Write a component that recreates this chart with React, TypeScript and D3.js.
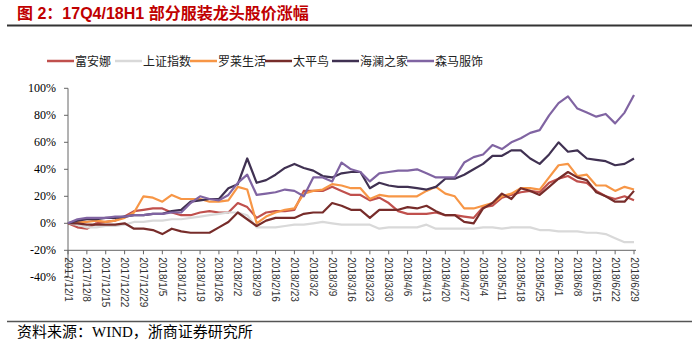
import { useRef, useEffect } from "react";
import * as d3 from "d3";

// weekly tick labels (every 5 trading days)
const weekLabels = [
  "2017/12/1", "2017/12/8", "2017/12/15", "2017/12/22", "2017/12/29",
  "2018/1/5", "2018/1/12", "2018/1/19", "2018/1/26", "2018/2/2",
  "2018/2/9", "2018/2/16", "2018/2/23", "2018/3/2", "2018/3/9",
  "2018/3/16", "2018/3/23", "2018/3/30", "2018/4/6", "2018/4/13",
  "2018/4/20", "2018/4/27", "2018/5/4", "2018/5/11", "2018/5/18",
  "2018/5/25", "2018/6/1", "2018/6/8", "2018/6/15", "2018/6/22",
  "2018/6/29",
];

const yTicks = [-40, -20, 0, 20, 40, 60, 80, 100];

// cumulative change in %, sampled twice a week
const fuanna = [
  0, -3, -4, 0, 1, 2, 5, 9, 10, 11, 11, 8, 6, 6, 8, 9, 8, 8, 15, 12,
  4, 8, 9, 9, 10, 24, 24, 24, 27, 24, 21, 21, 17, 19, 15, 9, 7, 7, 7, 8,
  6, 6, 5, 4, 12, 13, 19, 21, 23, 24, 23, 30, 33, 35, 31, 30, 24, 20, 18, 20,
  17,
];
const shIndex = [
  0, -1, -3, -3, -2, -2, -1, 1, 1, 2, 2, 3, 3, 4, 5, 6, 7, 8, 8, 6,
  -3, -3, -3, -2, -1, -1, 0, 1, 0, -1, -1, -1, -1, -4, -3, -3, -3, -3, -1, -4,
  -4, -4, -4, -4, -3, -3, -4, -3, -3, -3, -5, -5, -6, -6, -6, -7, -7, -8, -11, -14,
  -14,
];
const luolai = [
  0, 1, 1, 2, 1, 2, 4, 8, 20, 19, 16, 21, 18, 18, 18, 16, 16, 17, 27, 25,
  0, 5, 8, 10, 11, 22, 24, 25, 29, 28, 26, 26, 18, 21, 20, 20, 20, 20, 24, 27,
  22, 20, 11, 11, 13, 15, 20, 22, 26, 26, 25, 34, 43, 44, 35, 36, 28, 28, 24, 27,
  25,
];
const peacebird = [
  0, 0, -1, -1, -1, -1, 0, -4, -4, -5, -8, -4, -6, -7, -7, -7, -3, 1, 8, 3,
  -2, 2, 4, 4, 4, 7, 8, 8, 15, 13, 10, 10, 4, 10, 10, 10, 12, 11, 13, 9,
  6, 6, 1, 0, 11, 15, 22, 18, 26, 24, 21, 27, 33, 38, 34, 32, 23, 20, 16, 16,
  24,
];
const hla = [
  0, 2, 3, 3, 4, 4, 5, 6, 6, 7, 7, 9, 10, 16, 17, 18, 18, 26, 29, 48,
  30, 32, 36, 41, 44, 41, 39, 35, 34, 37, 38, 38, 26, 30, 28, 27, 27, 26, 25, 27,
  33, 33, 36, 40, 44, 50, 50, 54, 54, 48, 44, 51, 60, 53, 54, 48, 47, 46, 43, 44,
  48,
];
const semir = [
  0, 3, 4, 4, 4, 5, 5, 6, 6, 7, 7, 8, 8, 15, 20, 18, 17, 21, 30, 36,
  21, 22, 23, 25, 24, 20, 34, 34, 31, 45, 40, 38, 31, 37, 38, 39, 39, 40, 37, 34,
  34, 34, 45, 49, 51, 58, 55, 60, 63, 67, 69, 80, 89, 94, 85, 82, 79, 81, 74, 82,
  95,
];

const seriesNames = ["富安娜", "上证指数", "罗莱生活", "太平鸟", "海澜之家", "森马服饰"];
const seriesValues = [fuanna, shIndex, luolai, peacebird, hla, semir];
const seriesColors = ["#C0504D", "#D9D9D9", "#F79646", "#772C2A", "#403152", "#8064A2"];

function Chart() {
  const svgRef = useRef<SVGSVGElement>(null);

  useEffect(() => {
    if (!svgRef.current) return;
    const svg = d3.select(svgRef.current);
    svg.selectAll("*").remove();

    const width = 700;
    const height = 353;
    svg.attr("width", width).attr("height", height);

    const x = d3.scaleLinear().domain([0, 60]).range([68, 634]);
    const y = d3.scaleLinear().domain([-40, 100]).range([277.3, 88.3]);

    // title + rules
    svg
      .append("text")
      .attr("x", 17)
      .attr("y", 19)
      .style("font-family", "'Liberation Sans', 'Noto Sans CJK SC', sans-serif")
      .style("font-weight", "bold")
      .style("font-size", "16px")
      .style("fill", "#C00000")
      .text("图 2：17Q4/18H1 部分服装龙头股价涨幅");
    svg
      .append("line")
      .attr("x1", 7)
      .attr("x2", 692)
      .attr("y1", 25.5)
      .attr("y2", 25.5)
      .attr("stroke", "#333")
      .attr("stroke-width", 2);
    svg
      .append("line")
      .attr("x1", 7)
      .attr("x2", 692)
      .attr("y1", 321.5)
      .attr("y2", 321.5)
      .attr("stroke", "#555")
      .attr("stroke-width", 1.5);
    svg
      .append("text")
      .attr("x", 17)
      .attr("y", 337)
      .style("font-family", "'Liberation Serif', 'Noto Sans CJK SC', serif")
      .style("font-size", "15px")
      .style("fill", "#000")
      .text("资料来源：WIND，浙商证券研究所");

    // legend
    const legX = [47, 115, 190, 265, 332, 407];
    seriesNames.forEach((name, i) => {
      svg
        .append("line")
        .attr("x1", legX[i])
        .attr("x2", legX[i] + 27)
        .attr("y1", 61)
        .attr("y2", 61)
        .attr("stroke", seriesColors[i])
        .attr("stroke-width", 2.5);
      svg
        .append("text")
        .attr("x", legX[i] + 28)
        .attr("y", 65.5)
        .style("font-family", "'Noto Sans CJK SC', sans-serif")
        .style("font-size", "12px")
        .style("fill", "#222")
        .text(name);
    });

    // y axis
    const yAxis = svg.append("g");
    yAxis
      .append("line")
      .attr("x1", 68)
      .attr("x2", 68)
      .attr("y1", y(100))
      .attr("y2", y(-40))
      .attr("stroke", "#666")
      .attr("stroke-width", 1);
    yAxis
      .selectAll("line.tick")
      .data(yTicks)
      .join("line")
      .attr("class", "tick")
      .attr("x1", 64)
      .attr("x2", 68)
      .attr("y1", (d) => y(d))
      .attr("y2", (d) => y(d))
      .attr("stroke", "#666");
    yAxis
      .selectAll("text")
      .data(yTicks)
      .join("text")
      .attr("x", 56)
      .attr("y", (d) => y(d) + 4)
      .attr("text-anchor", "end")
      .style("font-family", "'Liberation Serif', serif")
      .style("font-size", "12px")
      .style("fill", "#000")
      .text((d) => d + "%");

    // x axis (crosses at -20%)
    const axisY = y(-20);
    const xAxis = svg.append("g");
    xAxis
      .append("line")
      .attr("x1", 68)
      .attr("x2", 636)
      .attr("y1", axisY)
      .attr("y2", axisY)
      .attr("stroke", "#666")
      .attr("stroke-width", 1);
    xAxis
      .selectAll("line.tick")
      .data(weekLabels)
      .join("line")
      .attr("class", "tick")
      .attr("x1", (_, i) => x(i * 2))
      .attr("x2", (_, i) => x(i * 2))
      .attr("y1", axisY)
      .attr("y2", axisY + 4)
      .attr("stroke", "#666");
    xAxis
      .selectAll("text")
      .data(weekLabels)
      .join("text")
      .attr(
        "transform",
        (_, i) => `translate(${x(i * 2)},${axisY + 7}) rotate(90)`,
      )
      .attr("dy", "0.35em")
      .attr("text-anchor", "start")
      .style("font-family", "'Liberation Sans', sans-serif")
      .style("font-size", "10px")
      .style("fill", "#333")
      .text((d) => d);

    // lines
    const line = d3
      .line<number>()
      .x((_, i) => x(i))
      .y((d) => y(d));
    seriesValues.forEach((vals, i) => {
      svg
        .append("path")
        .datum(vals)
        .attr("d", line)
        .attr("fill", "none")
        .attr("stroke", seriesColors[i])
        .attr("stroke-width", 2.2)
        .attr("stroke-linejoin", "round");
    });

    return () => {
      svg.selectAll("*").remove();
    };
  }, []);

  return (
    <svg
      ref={svgRef}
      style={{ position: "absolute", left: 0, top: 0, background: "#fff" }}
    />
  );
}

export default function App() {
  return <Chart />;
}
